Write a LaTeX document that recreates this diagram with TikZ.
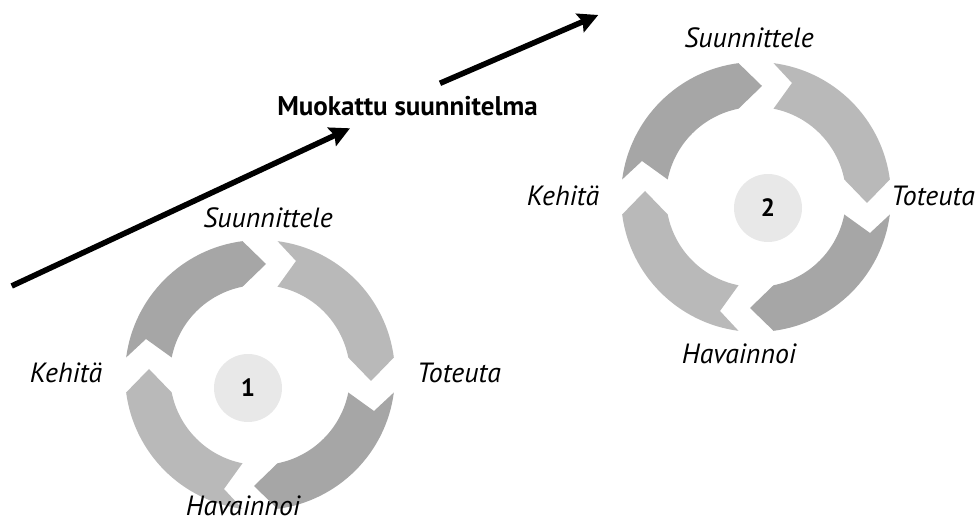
\documentclass[tikz,border=0pt]{standalone}
\usepackage{fontspec}
\setmainfont{PT Sans}
\usetikzlibrary{arrows.meta}
\definecolor{segdark}{HTML}{A6A6A6}
\definecolor{seglight}{HTML}{B9B9B9}
\definecolor{diskgray}{HTML}{E8E8E8}

\begin{document}
\begin{tikzpicture}[x=0.5pt, y=0.5pt,
  stage/.style={font=\fontsize{13.9}{15}\selectfont\itshape, anchor=base, inner sep=0pt},
  numdisk/.style={circle, fill=diskgray, minimum size=34pt, inner sep=0pt,
    font=\fontsize{12.5}{14}\selectfont\bfseries},
  bigarrow/.style={line width=2.8pt, -{Stealth[length=10pt, width=10pt, inset=1.5pt]}}]
  \useasboundingbox (0,0) rectangle (979,523);

  % two cycles of four arrow segments
  \foreach \cx/\cy in {260/148, 756/326} {
    \begin{scope}[shift={(\cx,\cy)}]
      \foreach \rot/\col in {0/seglight, -90/segdark, -180/seglight, -270/segdark} {
        \fill[\col, rotate=\rot]
          (82.55:135) arc[start angle=82.55, end angle=7.45, radius=135]
          -- (111,-6) -- (11.21:90)
          arc[start angle=11.21, end angle=78.79, radius=90]
          -- (36,114) -- cycle;
      }
    \end{scope}
  }

  % cycle numbers
  \node[numdisk] (n1) at (248,135) {1};
  \node[numdisk] (n2) at (768,315) {2};

  % stages, cycle 1
  \node[stage] (plan1) at (268,295) {Suunnittele};
  \node[stage] (do1)   at (459,140) {Toteuta};
  \node[stage] (obs1)  at (243,7)   {Havainnoi};
  \node[stage] (dev1)  at (66,140)  {Kehitä};

  % stages, cycle 2
  \node[stage] (plan2) at (749,475) {Suunnittele};
  \node[stage] (do2)   at (933,317) {Toteuta};
  \node[stage] (obs2)  at (739,159) {Havainnoi};
  \node[stage] (dev2)  at (563,317) {Kehitä};

  % modified plan between the cycles
  \node[font=\fontsize{13.5}{15}\selectfont\bfseries, anchor=base, inner sep=0pt]
    (mod) at (407.5,407) {Muokattu suunnitelma};
  \coordinate (a1s) at (11.7,237);
  \coordinate (a1e) at (350,394.7);
  \coordinate (a2s) at (440,439.7);
  \coordinate (a2e) at (598.3,508);
  \draw[bigarrow] (a1s) -- (a1e);
  \draw[bigarrow] (a2s) -- (a2e);
\end{tikzpicture}
\end{document}
